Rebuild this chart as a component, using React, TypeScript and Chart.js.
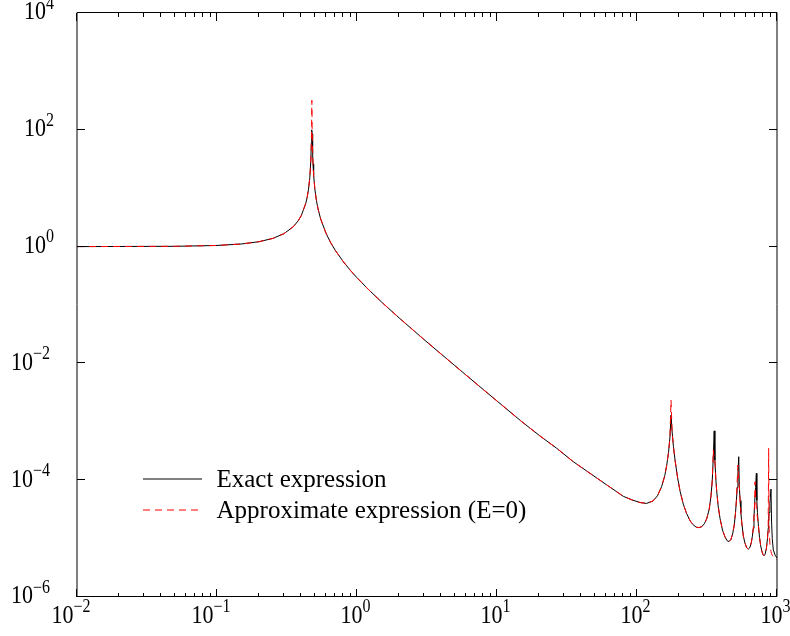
import React, { useEffect, useRef } from "react";
import { Chart, registerables } from "chart.js";

Chart.register(...registerables);

// Frequencies (x) shared by both curves
const frequencies = [
  0.01, 0.05, 0.1, 0.15, 0.2, 0.25, 0.3, 0.35, 0.38, 0.4, 0.43, 0.44, 0.45, 0.46, 0.468, 0.472,
  0.474, 0.476, 0.478, 0.482, 0.485, 0.49, 0.5, 0.51, 0.52, 0.53, 0.55, 0.6, 0.65, 0.7, 0.8, 0.9,
  1, 1.2, 1.5, 2, 3, 5, 7, 10, 15, 20.3, 26.7, 35.1, 46.2, 60.8, 79.8, 92, 105, 117, 130, 140,
  150, 158, 163, 168, 172, 175, 178, 182, 187, 195, 203, 214, 226, 240, 252, 265, 277, 290, 303,
  315, 328, 338, 345, 351, 356, 360, 366, 371, 380, 392, 408, 425, 440, 454, 468, 482, 495, 505,
  513, 520, 526, 533, 538, 545, 552, 560, 575, 591, 607, 624, 640, 655, 667, 677, 685, 692, 697,
  703, 712, 718, 725, 735, 750, 765, 778, 792, 807, 822, 840, 855, 865, 872, 878, 890, 906, 914,
  925, 941, 970, 1000,
];

const exactValues = [
  1.0, 1.011, 1.046, 1.11, 1.214, 1.38, 1.66, 2.18, 2.76, 3.4, 5.44, 6.87, 9.41, 15.1, 30, 60,
  85, 100, 85, 39.5, 26.2, 16.8, 9.67, 6.76, 5.17, 4.17, 2.98, 1.7, 1.157, 0.86, 0.548, 0.388,
  0.293, 0.187, 0.112, 0.0601, 0.0258, 0.00915, 0.00464, 0.00227, 0.00101, 5.71e-4, 3.52e-4,
  2.07e-4, 1.31e-4, 8.3e-5, 5.3e-5, 4.6e-5, 4.15e-5, 4.0e-5, 4.4e-5, 5.4e-5, 7.8e-5, 1.2e-4,
  1.8e-4, 3.0e-4, 5.5e-4, 1.3e-3, 7.0e-4, 3.8e-4, 2.2e-4, 1.1e-4, 6.5e-5, 3.9e-5, 2.7e-5,
  2.0e-5, 1.72e-5, 1.57e-5, 1.54e-5, 1.6e-5, 1.8e-5, 2.2e-5, 3.2e-5, 5.5e-5, 1.0e-4, 2.6e-4,
  7.0e-4, 2.2e-4, 1.0e-4, 6.5e-5, 3.6e-5, 2.2e-5, 1.4e-5, 1.07e-5, 9.2e-6, 8.9e-6, 9.6e-6,
  1.2e-5, 1.7e-5, 2.7e-5, 4.5e-5, 7.5e-5, 1.3e-4, 2.52e-4, 8.0e-5, 4.5e-5, 2.8e-5, 1.9e-5,
  1.1e-5, 8.3e-6, 7.0e-6, 6.6e-6, 7.0e-6, 8.5e-6, 1.1e-5, 1.5e-5, 2.3e-5, 4.0e-5, 5.5e-5,
  7.5e-5, 1.31e-4, 4.5e-5, 2.8e-5, 1.8e-5, 1.05e-5, 7.5e-6, 6.2e-6, 5.4e-6, 5.1e-6, 5.4e-6,
  6.8e-6, 1.0e-5, 1.5e-5, 2.2e-5, 2.8e-5, 4.0e-5, 7.07e-5, 2.0e-5, 1.0e-5, 6.4e-6, 5.2e-6,
  4.65e-6,
];

const approxValues = [
  1.0, 1.011, 1.046, 1.11, 1.214, 1.38, 1.66, 2.18, 2.76, 3.4, 5.44, 6.87, 9.41, 15.1, 30, 60,
  119, 320, 119, 39.5, 26.2, 16.8, 9.67, 6.76, 5.17, 4.17, 2.98, 1.7, 1.157, 0.86, 0.548, 0.388,
  0.293, 0.187, 0.112, 0.0601, 0.0258, 0.00915, 0.00464, 0.00227, 0.00101, 5.71e-4, 3.52e-4,
  2.07e-4, 1.31e-4, 8.3e-5, 5.3e-5, 4.6e-5, 4.15e-5, 4.0e-5, 4.4e-5, 5.4e-5, 7.8e-5, 1.2e-4,
  1.8e-4, 3.0e-4, 5.5e-4, 2.36e-3, 7.0e-4, 3.8e-4, 2.2e-4, 1.1e-4, 6.5e-5, 3.9e-5, 2.7e-5,
  2.0e-5, 1.72e-5, 1.57e-5, 1.54e-5, 1.6e-5, 1.8e-5, 2.2e-5, 3.2e-5, 5.5e-5, 1.0e-4, 3.3e-4,
  2.2e-4, 2.2e-4, 1.0e-4, 6.5e-5, 3.6e-5, 2.2e-5, 1.4e-5, 1.07e-5, 9.2e-6, 8.9e-6, 9.6e-6,
  1.2e-5, 1.7e-5, 2.7e-5, 4.5e-5, 1.0e-4, 1.82e-4, 9.0e-5, 8.0e-5, 4.5e-5, 2.8e-5, 1.9e-5,
  1.1e-5, 8.3e-6, 7.0e-6, 6.6e-6, 7.0e-6, 8.5e-6, 1.1e-5, 1.5e-5, 2.3e-5, 4.0e-5, 9.4e-5,
  5.0e-5, 3.3e-5, 2.8e-5, 2.3e-5, 1.8e-5, 1.05e-5, 7.5e-6, 6.2e-6, 5.4e-6, 5.1e-6, 5.4e-6,
  6.8e-6, 1.0e-5, 1.5e-5, 3.52e-4, 1.5e-5, 8.0e-6, 6.0e-6, 5.5e-6, 5.2e-6, 4.8e-6, 4.5e-6,
  4.35e-6,
];

const seriesLabels = ["Exact expression", "Approximate expression (E=0)"];
const xTickExponents = [-2, -1, 0, 1, 2, 3];
const yTickExponents = [-6, -4, -2, 0, 2, 4];
const minorMultipliers = [2, 3, 4, 5, 6, 7, 8, 9];

const SERIF = '"Liberation Serif", "Times New Roman", Times, serif';
const BASE_FONT = `22px ${SERIF}`;
const SUP_FONT = `16px ${SERIF}`;
const LEGEND_FONT = `25px ${SERIF}`;
const V_STRETCH = 1.12;

function stretchedText(ctx: CanvasRenderingContext2D, text: string, x: number, y: number) {
  ctx.save();
  ctx.translate(x, y);
  ctx.scale(1, V_STRETCH);
  ctx.fillText(text, 0, 0);
  ctx.restore();
}

function drawPower(ctx: CanvasRenderingContext2D, exp: number, anchorX: number, midY: number, mode: "right" | "center") {
  const base = "10";
  const sup = exp < 0 ? "\u2212" + Math.abs(exp) : String(exp);
  ctx.font = BASE_FONT;
  const wb = ctx.measureText(base).width;
  ctx.font = SUP_FONT;
  const ws = ctx.measureText(sup).width;
  const total = wb + ws;
  const x0 = mode === "right" ? anchorX - total : anchorX - total / 2;
  ctx.textAlign = "left";
  ctx.textBaseline = "middle";
  ctx.fillStyle = "#000";
  ctx.font = BASE_FONT;
  stretchedText(ctx, base, x0, midY);
  ctx.font = SUP_FONT;
  stretchedText(ctx, sup, x0 + wb, midY - 9);
}

const framePlugin = {
  id: "gnuFrame",
  afterDraw(chart: any) {
    const ctx: CanvasRenderingContext2D = chart.ctx;
    const { left, right, top, bottom } = chart.chartArea;
    const xs = chart.scales.x;
    const ys = chart.scales.y;
    ctx.save();
    ctx.strokeStyle = "#000";
    ctx.lineWidth = 1;
    ctx.setLineDash([]);

    // frame
    ctx.beginPath();
    ctx.moveTo(left, top - 0.5);
    ctx.lineTo(right, top - 0.5);
    ctx.moveTo(left, bottom - 0.5);
    ctx.lineTo(right, bottom - 0.5);
    ctx.moveTo(left, top - 0.5);
    ctx.lineTo(left, bottom - 0.5);
    ctx.moveTo(right, top - 0.5);
    ctx.lineTo(right, bottom - 0.5);
    ctx.stroke();

    // x ticks (bottom and top, inward)
    ctx.beginPath();
    xTickExponents.forEach((e, i) => {
      const v = Math.pow(10, e);
      const px = Math.round(xs.getPixelForValue(v)) - 0.5;
      ctx.moveTo(px, bottom);
      ctx.lineTo(px, bottom - 8);
      ctx.moveTo(px, top);
      ctx.lineTo(px, top + 8);
      if (i < xTickExponents.length - 1) {
        minorMultipliers.forEach((m) => {
          const mx = Math.round(xs.getPixelForValue(m * v)) - 0.5;
          ctx.moveTo(mx, bottom);
          ctx.lineTo(mx, bottom - 4);
          ctx.moveTo(mx, top);
          ctx.lineTo(mx, top + 4);
        });
      }
    });
    // y ticks (left and right, inward)
    yTickExponents.forEach((e) => {
      const py = Math.round(ys.getPixelForValue(Math.pow(10, e))) - 0.5;
      ctx.moveTo(left, py);
      ctx.lineTo(left + 8, py);
      ctx.moveTo(right, py);
      ctx.lineTo(right - 8, py);
    });
    ctx.stroke();

    // tick labels
    yTickExponents.forEach((e) => {
      const py = ys.getPixelForValue(Math.pow(10, e));
      drawPower(ctx, e, e < 0 ? 50 : 54, py, "right");
    });
    xTickExponents.forEach((e) => {
      const px = xs.getPixelForValue(Math.pow(10, e));
      drawPower(ctx, e, px - (e < 0 ? 6 : 1.5), 616.5, "center");
    });

    // legend
    const rows = [479, 510];
    chart.data.datasets.forEach((ds: any, i: number) => {
      const y = rows[i];
      ctx.strokeStyle = ds.borderColor;
      ctx.lineWidth = 1;
      ctx.setLineDash(ds.borderDash || []);
      ctx.beginPath();
      ctx.moveTo(143, y);
      ctx.lineTo(202, y);
      ctx.stroke();
      ctx.setLineDash([]);
      ctx.fillStyle = "#000";
      ctx.font = LEGEND_FONT;
      ctx.textAlign = "left";
      ctx.textBaseline = "middle";
      ctx.fillText(ds.label, 216.5, y + 1);
    });
    ctx.restore();
  },
};

export default function App() {
  const canvasRef = useRef<HTMLCanvasElement | null>(null);

  useEffect(() => {
    const canvas = canvasRef.current;
    if (!canvas) return;
    const exactData = frequencies.map((f, i) => ({ x: f, y: exactValues[i] }));
    const approxData = frequencies.map((f, i) => ({ x: f, y: approxValues[i] }));
    const chart = new Chart(canvas, {
      type: "line",
      data: {
        datasets: [
          {
            label: seriesLabels[0],
            data: exactData,
            borderColor: "#000000",
            borderWidth: 1,
            pointRadius: 0,
            tension: 0,
            fill: false,
            order: 1,
          },
          {
            label: seriesLabels[1],
            data: approxData,
            borderColor: "#ff0000",
            borderWidth: 1,
            borderDash: [7, 5],
            pointRadius: 0,
            tension: 0,
            fill: false,
            order: 0,
          },
        ],
      },
      options: {
        animation: false,
        responsive: true,
        maintainAspectRatio: false,
        devicePixelRatio: 1,
        layout: { padding: { left: 77, right: 13, top: 13, bottom: 39 } },
        plugins: {
          legend: { display: false },
          tooltip: { enabled: false },
        },
        scales: {
          x: { type: "logarithmic", min: 0.01, max: 1000, display: false },
          y: { type: "logarithmic", min: 1e-6, max: 1e4, display: false },
        },
      },
      plugins: [framePlugin],
    });
    return () => chart.destroy();
  }, []);

  return (
    <div style={{ position: "fixed", left: 0, top: 0, width: 790, height: 636, background: "#fff" }}>
      <canvas ref={canvasRef} />
    </div>
  );
}
